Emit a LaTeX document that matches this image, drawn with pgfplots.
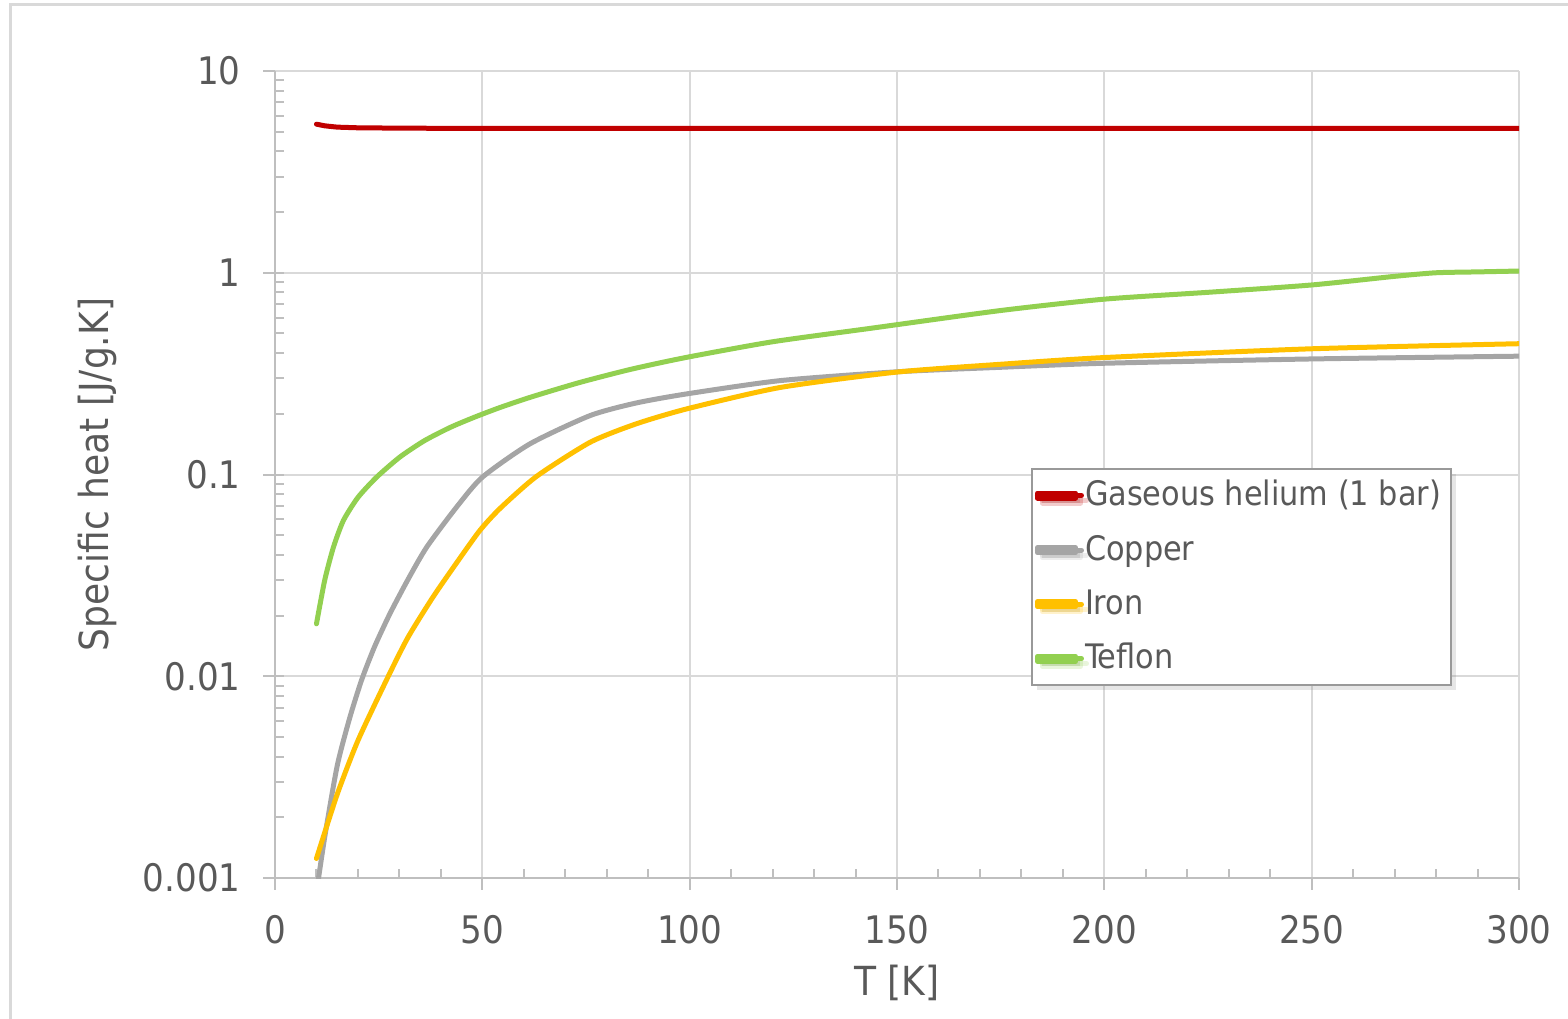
\documentclass[border=0pt]{standalone}
\usepackage{fontspec}
\setmainfont{DejaVu Sans Condensed}
\usepackage{pgfplots}
\pgfplotsset{compat=1.18}
\usetikzlibrary{shadows}
\definecolor{txt}{HTML}{595959}
\definecolor{axc}{HTML}{BFBFBF}
\definecolor{grd}{HTML}{D9D9D9}
\definecolor{cHe}{HTML}{C00000}
\definecolor{cCu}{HTML}{A5A5A5}
\definecolor{cFe}{HTML}{FFC000}
\definecolor{cTe}{HTML}{92D050}
\begin{document}
\begin{tikzpicture}
\path[use as bounding box] (0,0) rectangle (156.8mm,101.8mm);
\draw[grd, line width=0.3mm] (1mm,-5mm) -- (1mm,101.3mm) -- (170mm,101.3mm);
\begin{axis}[
  at={(27.5mm,14.0mm)}, anchor=south west,
  scale only axis, width=124.4mm, height=80.7mm,
  xmin=0, xmax=300, ymin=0.001, ymax=10, ymode=log,
  axis x line*=bottom, axis y line*=left,
  axis line style={axc, line width=0.2mm, -},
  grid=major, major grid style={grd, line width=0.2mm},
  xtick={0,50,...,300}, xticklabels={0,50,100,150,200,250,300},
  minor x tick num=4,
  ytick={0.001,0.01,0.1,1,10}, yticklabels={0.001,0.01,0.1,1,10},
  tick align=inside, major tick length=-1.2mm, minor tick length=0.9mm,
  tick style={axc, line width=0.2mm},
  tick label style={font=\fontsize{10.8pt}{12pt}\selectfont, text=txt},
  xticklabel style={yshift=-2.5mm},
  yticklabel style={xshift=-2.2mm},
  xlabel={T [K]}, ylabel={Specific heat [J/g.K]},
  label style={font=\fontsize{11.4pt}{13pt}\selectfont, text=txt},
  xlabel style={at={(axis description cs:0.5,-0.13)}, anchor=center},
  ylabel style={at={(axis description cs:-0.143,0.5)}, anchor=center},
  legend style={at={(axis description cs:0.6077,0.508)}, anchor=north west,
    draw=gray!80, fill=white, line width=0.2mm, drop shadow={shadow xshift=0.5mm, shadow yshift=-0.5mm, opacity=0.2},
    font=\fontsize{9.6pt}{11pt}\selectfont, text=txt, cells={anchor=west},
    row sep=1.0mm, inner xsep=0.3mm, inner ysep=0.4mm},
  legend image code/.code={\path[use as bounding box] (0mm,-0.25mm) rectangle (3.8mm,0.25mm);
    \draw[#1, line width=0.5mm] (0mm,0mm) -- (4.4mm,0mm);},
  every axis plot/.append style={line width=0.5mm, line join=round, line cap=round},
]
\addplot[cHe] coordinates {(10,5.45) (12,5.35) (15,5.27) (20,5.23) (30,5.21) (40,5.20) (100,5.195) (200,5.193) (300,5.193)};
\addlegendentry{Gaseous helium (1 bar)}
\addplot[cCu, smooth, tension=0.4] coordinates {(10,0.00085) (12,0.0016) (15,0.0036) (18,0.0062) (20.9,0.0096) (24,0.0140) (27.7,0.0204) (32,0.030) (36.6,0.0437) (43.8,0.069) (50,0.097) (61.5,0.142) (76,0.196) (87,0.226) (99.3,0.251) (121.8,0.292) (150,0.323) (175,0.340) (200,0.356) (250,0.374) (300,0.386)};
\addlegendentry{Copper}
\addplot[cFe, smooth, tension=0.4] coordinates {(10,0.00125) (15,0.0026) (20,0.0048) (26.9,0.0096) (32,0.0155) (38.1,0.0247) (44,0.037) (49.4,0.0528) (54.3,0.068) (63.1,0.098) (76,0.1445) (87,0.178) (99.3,0.2115) (121.8,0.270) (150,0.322) (175,0.352) (200,0.38) (250,0.42) (300,0.445)};
\addlegendentry{Iron}
\addplot[cTe, smooth, tension=0.4] coordinates {(10,0.0182) (12,0.030) (14.1,0.0437) (16.5,0.0592) (20,0.077) (24.5,0.097) (30.1,0.122) (36,0.147) (42.2,0.171) (48,0.192) (54.3,0.215) (62,0.243) (73.5,0.286) (86,0.333) (99.3,0.381) (120,0.455) (143.5,0.53) (175,0.65) (200,0.74) (225,0.80) (250,0.87) (270,0.96) (280,1.0) (290,1.01) (300,1.02)};
\addlegendentry{Teflon}
\end{axis}
\end{tikzpicture}
\end{document}
